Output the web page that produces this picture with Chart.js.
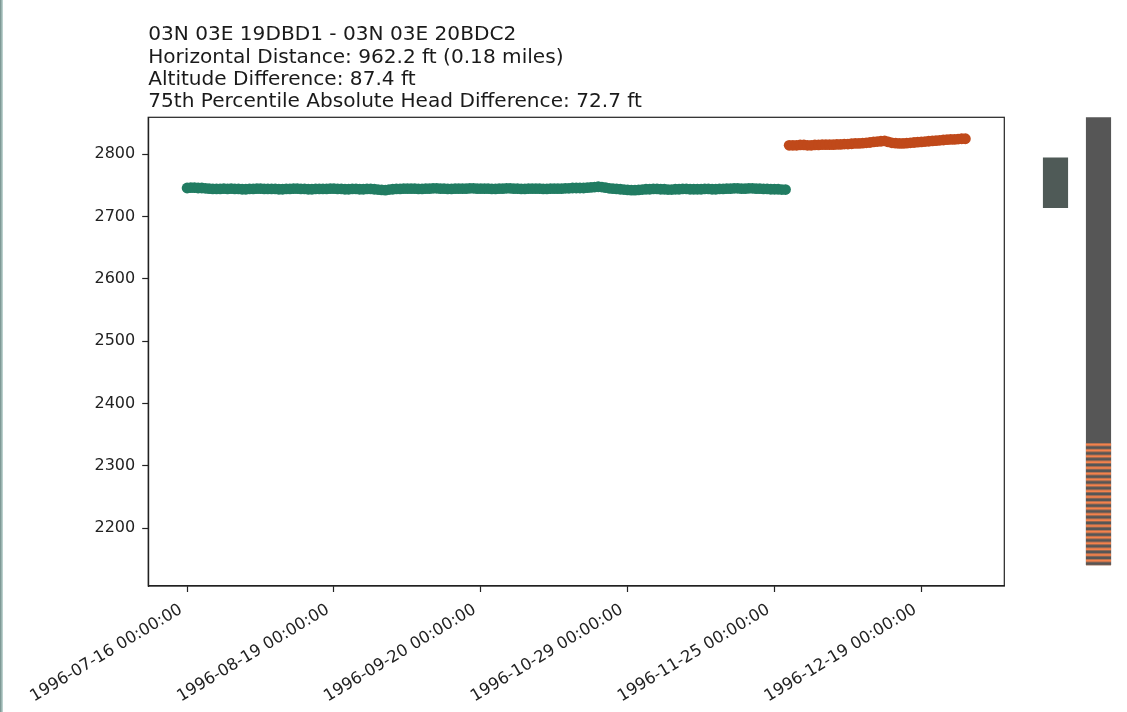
<!DOCTYPE html>
<html>
<head>
<meta charset="utf-8">
<script src="https://cdn.jsdelivr.net/npm/chart.js@4.4.1/dist/chart.umd.min.js"></script>
<style>
  html, body { margin: 0; padding: 0; background: #ffffff; }
  #wrap { position: relative; width: 1127px; height: 712px; overflow: hidden; background: #ffffff; }
  #main { position: absolute; left: 0; top: 0; }
  #side { position: absolute; left: 1034px; top: 0; }
  #edge { position: absolute; left: 0; top: 0; width: 3px; height: 712px;
          background: linear-gradient(90deg, #6f8c88, #c9dedb); }
</style>
</head>
<body>
<div id="wrap">
  <canvas id="main" width="1127" height="712"></canvas>
  <canvas id="side" width="86" height="712"></canvas>
  <div id="edge"></div>
</div>
<script>
// Title block
const titleLines = [
  '03N 03E 19DBD1 - 03N 03E 20BDC2',
  'Horizontal Distance: 962.2 ft (0.18 miles)',
  'Altitude Difference: 87.4 ft',
  '75th Percentile Absolute Head Difference: 72.7 ft'
];

// Every 40th measurement date is labelled on the x axis
const xTickLabels = [
  '1996-07-16 00:00:00',
  '1996-08-19 00:00:00',
  '1996-09-20 00:00:00',
  '1996-10-29 00:00:00',
  '1996-11-25 00:00:00',
  '1996-12-19 00:00:00'
];
const xTickEvery = 40;

// Head (ft) for well 03N 03E 19DBD1, one value per measurement
const headWellA = [
  2746, 2746.5, 2746.5, 2746, 2746, 2745.5, 2745, 2744.5, 2744.5, 2744.5,
  2745, 2744.5, 2745, 2744.5, 2744.5, 2744, 2744, 2744.5, 2744.5, 2745,
  2745, 2744.5, 2744.5, 2744.5, 2744.5, 2744, 2744, 2744.5, 2744.5, 2745,
  2745, 2744.5, 2744.5, 2744, 2744, 2744.5, 2744.5, 2744.5, 2744.5, 2745,
  2745, 2744.5, 2744.5, 2744, 2744, 2744.5, 2744.5, 2744, 2744, 2744.5,
  2744.5, 2744, 2743.5, 2743, 2742.5, 2743.5, 2744, 2744.5, 2744.5, 2745,
  2745, 2745, 2745, 2744.5, 2744.5, 2745, 2745, 2745.5, 2745.5, 2745,
  2745, 2744.5, 2744.5, 2745, 2745, 2745, 2745, 2745.5, 2745.5, 2745,
  2745, 2745, 2745, 2744.5, 2744.5, 2745, 2745, 2745.5, 2745.5, 2745,
  2745, 2744.5, 2744.5, 2745, 2745, 2745, 2745, 2744.5, 2744.5, 2745,
  2745, 2745, 2745, 2745.5, 2745.5, 2746, 2746, 2746, 2746, 2746.5,
  2747, 2747.5, 2748, 2747.5, 2746.5, 2745.5, 2745, 2744.5, 2744, 2743.5,
  2743, 2742.5, 2742.5, 2743, 2743.5, 2744, 2744, 2744.5, 2744.5, 2744,
  2744, 2743.5, 2743.5, 2744, 2744, 2744.5, 2744.5, 2744, 2744, 2744,
  2744, 2744.5, 2744.5, 2744, 2744, 2744.5, 2744.5, 2745, 2745, 2745.5,
  2745.5, 2745, 2745, 2745.5, 2745.5, 2745, 2745, 2744.5, 2744.5, 2744,
  2744, 2744, 2743.5, 2743.5
];

// Head (ft) for well 03N 03E 20BDC2, measurements continue after well A's
const headWellBStart = 164;
const headWellB = [
  2814.5, 2814.5, 2814.5, 2815, 2815, 2814.5, 2814.5, 2815, 2815, 2815.5,
  2815.5, 2815.5, 2815.5, 2816, 2816, 2816.5, 2816.5, 2817, 2817.5, 2817.5,
  2818, 2818.5, 2819, 2820, 2820.5, 2821, 2821.5, 2820, 2818.5, 2818,
  2817.5, 2817.5, 2818, 2818.5, 2819, 2819.5, 2820, 2820.5, 2821, 2821.5,
  2822, 2822.5, 2823, 2823.5, 2824, 2824, 2824.5, 2825, 2825
];

// Side bars: floating [low, high] ranges in ft
const altitudeSpan = [2714.3, 2794.5];
const headSpan = [2141.1, 2859.4];
const headLowBand = [2141.1, 2336.3];

// Shared vertical range
const yMin = 2107.4;
const yMax = 2859.4;

const FONT = 'DejaVu Sans';
const INK = '#222222';

// Plot frame on all four sides
const framePlugin = {
  id: 'frame',
  afterDraw(chart) {
    const { ctx, chartArea: a } = chart;
    ctx.save();
    ctx.strokeStyle = INK;
    ctx.lineWidth = 1.2;
    ctx.strokeRect(a.left, a.top, a.right - a.left, a.bottom - a.top);
    ctx.restore();
  }
};

new Chart(document.getElementById('main'), {
  type: 'scatter',
  data: {
    datasets: [
      {
        label: '03N 03E 19DBD1',
        data: headWellA.map((v, i) => ({ x: i, y: v })),
        backgroundColor: '#217c62',
        borderColor: '#217c62',
        pointRadius: 5.4,
        pointBorderWidth: 0
      },
      {
        label: '03N 03E 20BDC2',
        data: headWellB.map((v, i) => ({ x: headWellBStart + i, y: v })),
        backgroundColor: '#c0491a',
        borderColor: '#c0491a',
        pointRadius: 5.4,
        pointBorderWidth: 0
      }
    ]
  },
  options: {
    responsive: false,
    animation: false,
    layout: { padding: { left: 0, right: 122.7, top: 0, bottom: 0 } },
    plugins: {
      legend: { display: false },
      tooltip: { enabled: false },
      title: {
        display: true,
        text: titleLines,
        align: 'start',
        fullSize: false,
        color: '#1a1a1a',
        font: { family: FONT, size: 20.1, weight: 'normal', lineHeight: '22.3px' },
        padding: { top: 24, bottom: 4.1 }
      }
    },
    scales: {
      x: {
        type: 'linear',
        min: -10.6,
        max: 222.6,
        afterFit(s) { s.height = 126; },
        border: { color: INK, width: 1.2 },
        grid: { drawOnChartArea: false, drawTicks: true, tickLength: 6, tickColor: INK, tickWidth: 1.2 },
        ticks: {
          stepSize: xTickEvery,
          includeBounds: false,
          autoSkip: false,
          minRotation: 31,
          maxRotation: 31,
          padding: 8,
          labelOffset: -6,
          color: INK,
          font: { family: FONT, size: 16.4 },
          callback: (v) => xTickLabels[v / xTickEvery] ?? ''
        }
      },
      y: {
        min: yMin,
        max: yMax,
        afterFit(s) { s.width = 148.2; },
        border: { color: INK, width: 1.2 },
        grid: { drawOnChartArea: false, drawTicks: true, tickLength: 6, tickColor: INK, tickWidth: 1.2 },
        ticks: {
          stepSize: 100,
          includeBounds: false,
          padding: 7,
          color: INK,
          font: { family: FONT, size: 16 },
          callback: (v) => String(v)
        }
      }
    }
  },
  plugins: [framePlugin]
});

// Horizontal hatch for the lower band of the head bar
function stripePattern(ctx) {
  const c = document.createElement('canvas');
  c.width = 4; c.height = 29;
  const g = c.getContext('2d');
  g.fillStyle = '#565656';
  g.fillRect(0, 0, 4, 29);
  g.fillStyle = '#f4824c';
  for (let k = 0; k < 5; k++) g.fillRect(0, k * 5.8, 4, 2.6);
  return ctx.createPattern(c, 'repeat');
}

const sideCanvas = document.getElementById('side');
const hatch = stripePattern(sideCanvas.getContext('2d'));

// Keep the hatch phase anchored to the top of the band
const hatchAnchor = {
  id: 'hatchAnchor',
  beforeDatasetsDraw(chart) {
    const top = chart.scales.y.getPixelForValue(headLowBand[1]);
    if (hatch.setTransform) hatch.setTransform(new DOMMatrix().translate(0, top));
  }
};

new Chart(sideCanvas, {
  type: 'bar',
  data: {
    labels: ['Altitude', 'Head'],
    datasets: [
      { data: [null, headLowBand], backgroundColor: hatch, order: 0 },
      { data: [altitudeSpan, headSpan], backgroundColor: ['#4f5a57', '#565656'], order: 1 }
    ]
  },
  options: {
    responsive: false,
    animation: false,
    layout: { padding: { top: 117.3, bottom: 126, left: 0, right: 0 } },
    datasets: { bar: { grouped: false, barThickness: 24.5 } },
    scales: {
      x: { display: false },
      y: { display: false, min: yMin, max: yMax }
    },
    plugins: { legend: { display: false }, tooltip: { enabled: false } }
  },
  plugins: [hatchAnchor]
});
</script>
</body>
</html>
